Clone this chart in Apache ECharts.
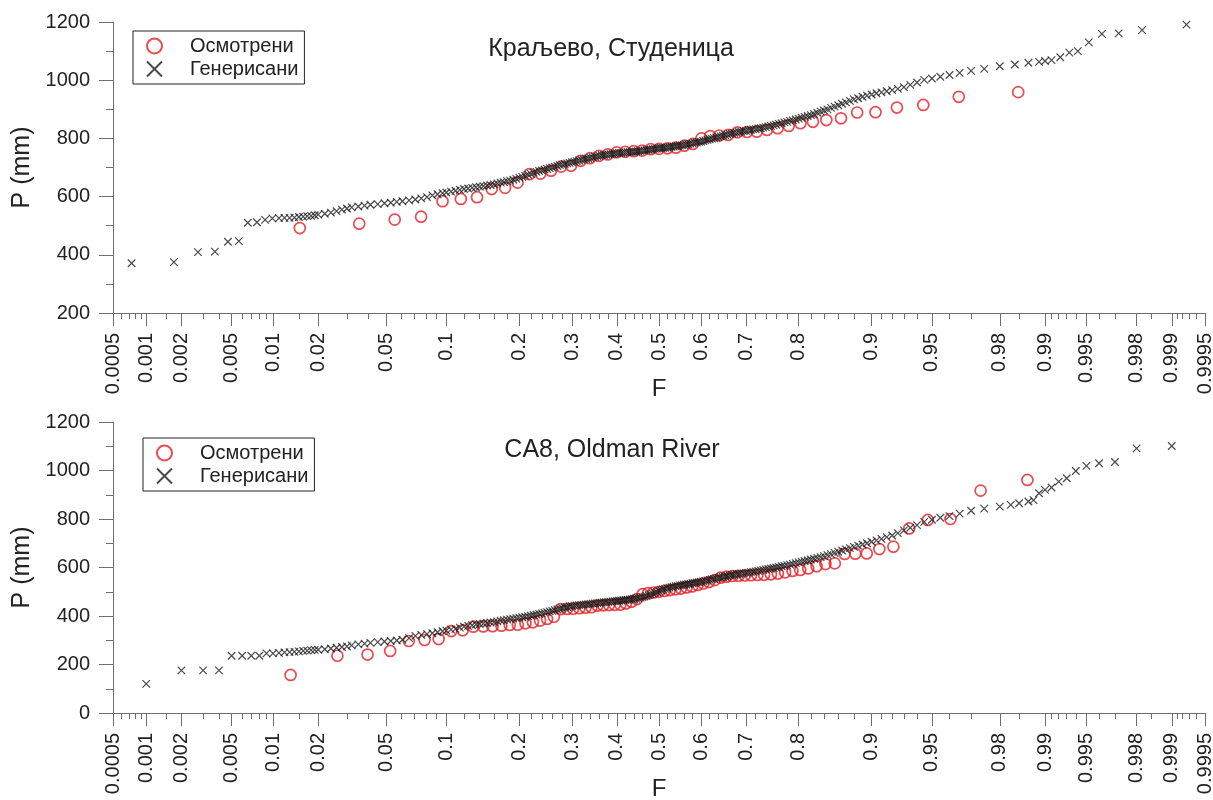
<!DOCTYPE html>
<html>
<head>
<meta charset="utf-8">
<script src="https://cdn.jsdelivr.net/npm/echarts@6/dist/echarts.min.js"></script>
<style>
    html, body {margin: 0; padding: 0; background: #fff;}
    #chart {width: 1213px; height: 800px;}
</style>
</head>
<body>
<div id="chart"></div>
<script>
// probability axis ticks
const majorF = [0.0005, 0.001, 0.002, 0.005, 0.01, 0.02, 0.05, 0.1, 0.2, 0.3, 0.4, 0.5, 0.6, 0.7, 0.8, 0.9, 0.95, 0.98, 0.99, 0.995, 0.998, 0.999, 0.9995]
const majorLabels = ['0.0005', '0.001', '0.002', '0.005', '0.01', '0.02', '0.05', '0.1', '0.2', '0.3', '0.4', '0.5', '0.6', '0.7', '0.8', '0.9', '0.95', '0.98', '0.99', '0.995', '0.998', '0.999', '0.9995']
const minorF = [
    0.0006, 0.0007, 0.0008, 0.0009, 0.0015, 0.003, 0.004, 0.006, 0.007, 0.008, 0.009, 0.015, 0.03, 0.04,
    0.06, 0.07, 0.08, 0.09, 0.12, 0.14, 0.16, 0.18, 0.22, 0.24, 0.26, 0.28, 0.32, 0.34, 0.36, 0.38,
    0.42, 0.44, 0.46, 0.48, 0.52, 0.54, 0.56, 0.58, 0.62, 0.64, 0.66, 0.68, 0.72, 0.74, 0.76, 0.78,
    0.82, 0.84, 0.86, 0.88, 0.91, 0.92, 0.93, 0.94, 0.96, 0.97, 0.985, 0.991, 0.992, 0.993, 0.994,
    0.996, 0.997, 0.9985, 0.9991, 0.9992, 0.9993, 0.9994,
]

// Краљево, Студеница
const obsTopF = [
    0.0152, 0.0354, 0.0556, 0.0758, 0.0960, 0.1162, 0.1364, 0.1566, 0.1768, 0.1970,
    0.2172, 0.2374, 0.2576, 0.2778, 0.2980, 0.3182, 0.3384, 0.3586, 0.3788, 0.3990,
    0.4192, 0.4394, 0.4596, 0.4798, 0.5000, 0.5202, 0.5404, 0.5606, 0.5808, 0.6010,
    0.6212, 0.6414, 0.6616, 0.6818, 0.7020, 0.7222, 0.7424, 0.7626, 0.7828, 0.8030,
    0.8232, 0.8434, 0.8636, 0.8838, 0.9040, 0.9242, 0.9444, 0.9646, 0.9848,
]
const obsTopP = [
    492, 507, 521, 531, 584, 592, 598, 626, 630, 648,
    677, 679, 689, 703, 706, 723, 732, 740, 745, 752,
    754, 756, 758, 763, 764, 766, 768, 775, 781, 800,
    808, 810, 812, 821, 822, 823, 829, 835, 843, 852,
    857, 863, 869, 889, 890, 906, 915, 943, 959,
]
const genTopF = [
    0.00074, 0.00173, 0.00273, 0.00372, 0.00469, 0.00567, 0.0066, 0.0077, 0.0088, 0.0099,
    0.011, 0.012, 0.013, 0.014, 0.015, 0.016, 0.017, 0.018, 0.019, 0.020,
    0.022, 0.024, 0.026, 0.028, 0.030, 0.032, 0.035, 0.038, 0.041, 0.045,
    0.049, 0.053, 0.057, 0.061, 0.066, 0.071, 0.076, 0.081, 0.086, 0.091,
    0.096,
    0.100, 0.105, 0.110, 0.115, 0.120, 0.125, 0.130, 0.135, 0.140, 0.145,
    0.150, 0.155, 0.160, 0.165, 0.170, 0.175, 0.180, 0.185, 0.190, 0.195,
    0.200, 0.205, 0.210, 0.215, 0.220, 0.225, 0.230, 0.235, 0.240, 0.245,
    0.250, 0.255, 0.260, 0.265, 0.270, 0.275, 0.280, 0.285, 0.290, 0.295,
    0.300, 0.305, 0.310, 0.315, 0.320, 0.325, 0.330, 0.335, 0.340, 0.345,
    0.350, 0.355, 0.360, 0.365, 0.370, 0.375, 0.380, 0.385, 0.390, 0.395,
    0.400, 0.405, 0.410, 0.415, 0.420, 0.425, 0.430, 0.435, 0.440, 0.445,
    0.450, 0.455, 0.460, 0.465, 0.470, 0.475, 0.480, 0.485, 0.490, 0.495,
    0.500, 0.505, 0.510, 0.515, 0.520, 0.525, 0.530, 0.535, 0.540, 0.545,
    0.550, 0.555, 0.560, 0.565, 0.570, 0.575, 0.580, 0.585, 0.590, 0.595,
    0.600, 0.605, 0.610, 0.615, 0.620, 0.625, 0.630, 0.635, 0.640, 0.645,
    0.650, 0.655, 0.660, 0.665, 0.670, 0.675, 0.680, 0.685, 0.690, 0.695,
    0.700, 0.705, 0.710, 0.715, 0.720, 0.725, 0.730, 0.735, 0.740, 0.745,
    0.750, 0.755, 0.760, 0.765, 0.770, 0.775, 0.780, 0.785, 0.790, 0.795,
    0.800, 0.805, 0.810, 0.815, 0.820, 0.825, 0.830, 0.835, 0.840, 0.845,
    0.850, 0.855, 0.860, 0.865, 0.870, 0.875, 0.880, 0.885, 0.890, 0.895,
    0.900,
    0.905, 0.910, 0.915, 0.920, 0.925, 0.930, 0.935, 0.940, 0.945, 0.950,
    0.955, 0.960, 0.965, 0.970, 0.975, 0.980, 0.984, 0.987, 0.989, 0.990,
    0.991, 0.9922, 0.9933, 0.9942, 0.9952, 0.9962, 0.9972, 0.9982, 0.99926,
]
const genTopP = [
    371, 375, 409, 411, 445, 447, 510, 512, 520, 525,
    526, 527, 527, 528, 530, 531, 533, 534, 536, 538,
    541, 545, 550, 555, 559, 563, 566, 569, 572, 574,
    577, 579, 582, 584, 587, 590, 594, 598, 604, 608,
    612,
    614, 617, 620, 623, 626, 628, 630, 632, 634, 636,
    638, 640, 642, 645, 648, 650, 653, 655, 658, 661,
    665, 668, 671, 675, 678, 682, 685, 688, 690, 693,
    695, 698, 700, 703, 705, 708, 710, 712, 714, 716,
    718, 720, 722, 724, 726, 728, 730, 731, 733, 735,
    737, 739, 740, 742, 743, 744, 745, 746, 747, 748,
    749, 750, 750, 751, 752, 753, 753, 754, 754, 755,
    756, 757, 758, 759, 760, 761, 762, 763, 764, 765,
    766, 767, 767, 768, 769, 770, 771, 772, 773, 774,
    775, 776, 777, 779, 780, 782, 783, 785, 786, 788,
    789, 791, 793, 795, 797, 799, 801, 803, 805, 807,
    809, 811, 813, 815, 817, 819, 820, 822, 823, 825,
    826, 828, 829, 831, 832, 834, 835, 837, 839, 841,
    843, 845, 847, 850, 852, 855, 857, 860, 862, 865,
    868, 871, 874, 877, 880, 884, 888, 892, 896, 900,
    905, 909, 914, 919, 924, 929, 934, 938, 943, 947,
    951,
    955, 958, 962, 966, 970, 976, 984, 992, 1001, 1006,
    1012, 1018, 1025, 1032, 1039, 1048, 1054, 1060, 1063, 1066,
    1069, 1079, 1095, 1100, 1130, 1159, 1161, 1172, 1191,
]

// CA8, Oldman River
const obsBotF = [
    0.0132, 0.0263, 0.0395, 0.0526, 0.0658, 0.0789, 0.0921, 0.1053, 0.1184, 0.1316,
    0.1447, 0.1579, 0.1711, 0.1842, 0.1974, 0.2105, 0.2237, 0.2368, 0.2500, 0.2632,
    0.2763, 0.2895, 0.3026, 0.3158, 0.3289, 0.3421, 0.3553, 0.3684, 0.3816, 0.3947,
    0.4079, 0.4211, 0.4342, 0.4474, 0.4605, 0.4737, 0.4868, 0.5000, 0.5132, 0.5263,
    0.5395, 0.5526, 0.5658, 0.5789, 0.5921, 0.6053, 0.6184, 0.6316, 0.6447, 0.6579,
    0.6711, 0.6842, 0.6974, 0.7105, 0.7237, 0.7368, 0.7500, 0.7632, 0.7763, 0.7895,
    0.8026, 0.8158, 0.8289, 0.8421, 0.8553, 0.8684, 0.8816, 0.8947, 0.9079, 0.9211,
    0.9342, 0.9474, 0.9605, 0.9737, 0.9868,
]
const obsBotP = [
    157, 236, 241, 256, 297, 301, 305, 338, 341, 356,
    357, 358, 360, 363, 364, 370, 374, 381, 388, 397,
    428, 429, 430, 432, 434, 436, 443, 444, 445, 446,
    447, 452, 459, 470, 490, 494, 497, 500, 503, 507,
    510, 513, 518, 522, 528, 534, 540, 548, 558, 562,
    565, 566, 567, 568, 569, 570, 572, 575, 580, 586,
    590, 596, 605, 614, 617, 656, 657, 658, 676, 686,
    761, 796, 800, 917, 961,
]
const genBotF = [
    0.001, 0.002, 0.003, 0.004, 0.005, 0.006, 0.007, 0.008, 0.009, 0.010,
    0.011, 0.012, 0.013, 0.014, 0.015, 0.016, 0.017, 0.018, 0.019, 0.020,
    0.022, 0.024, 0.026, 0.028, 0.030, 0.032, 0.035, 0.038, 0.041, 0.045,
    0.049, 0.053, 0.057, 0.061, 0.066, 0.071, 0.076, 0.081, 0.086, 0.091,
    0.096,
    0.100, 0.105, 0.110, 0.115, 0.120, 0.125, 0.130, 0.135, 0.140, 0.145,
    0.150, 0.155, 0.160, 0.165, 0.170, 0.175, 0.180, 0.185, 0.190, 0.195,
    0.200, 0.205, 0.210, 0.215, 0.220, 0.225, 0.230, 0.235, 0.240, 0.245,
    0.250, 0.255, 0.260, 0.265, 0.270, 0.275, 0.280, 0.285, 0.290, 0.295,
    0.300, 0.305, 0.310, 0.315, 0.320, 0.325, 0.330, 0.335, 0.340, 0.345,
    0.350, 0.355, 0.360, 0.365, 0.370, 0.375, 0.380, 0.385, 0.390, 0.395,
    0.400, 0.405, 0.410, 0.415, 0.420, 0.425, 0.430, 0.435, 0.440, 0.445,
    0.450, 0.455, 0.460, 0.465, 0.470, 0.475, 0.480, 0.485, 0.490, 0.495,
    0.500, 0.505, 0.510, 0.515, 0.520, 0.525, 0.530, 0.535, 0.540, 0.545,
    0.550, 0.555, 0.560, 0.565, 0.570, 0.575, 0.580, 0.585, 0.590, 0.595,
    0.600, 0.605, 0.610, 0.615, 0.620, 0.625, 0.630, 0.635, 0.640, 0.645,
    0.650, 0.655, 0.660, 0.665, 0.670, 0.675, 0.680, 0.685, 0.690, 0.695,
    0.700, 0.705, 0.710, 0.715, 0.720, 0.725, 0.730, 0.735, 0.740, 0.745,
    0.750, 0.755, 0.760, 0.765, 0.770, 0.775, 0.780, 0.785, 0.790, 0.795,
    0.800, 0.805, 0.810, 0.815, 0.820, 0.825, 0.830, 0.835, 0.840, 0.845,
    0.850, 0.855, 0.860, 0.865, 0.870, 0.875, 0.880, 0.885, 0.890, 0.895,
    0.900,
    0.905, 0.910, 0.915, 0.920, 0.925, 0.930, 0.935, 0.940, 0.945, 0.950,
    0.955, 0.960, 0.965, 0.970, 0.975, 0.980, 0.983, 0.985, 0.987, 0.988,
    0.989, 0.990, 0.991, 0.992, 0.993, 0.994, 0.995, 0.996, 0.997, 0.998, 0.999,
]
const genBotP = [
    120, 176, 176, 176, 236, 236, 236, 236, 246, 246,
    248, 250, 251, 252, 254, 256, 257, 259, 260, 261,
    263, 266, 269, 272, 275, 279, 283, 286, 289, 292,
    295, 297, 299, 302, 309, 318, 322, 325, 329, 333,
    337,
    340, 344, 347, 352, 356, 359, 362, 365, 367, 369,
    371, 373, 375, 378, 381, 383, 385, 387, 389, 391,
    393, 395, 397, 399, 401, 404, 406, 409, 411, 414,
    416, 419, 421, 424, 427, 430, 432, 435, 437, 439,
    441, 443, 444, 445, 446, 447, 448, 449, 450, 451,
    452, 453, 454, 455, 456, 457, 458, 459, 460, 461,
    462, 463, 464, 465, 466, 467, 468, 469, 471, 472,
    474, 476, 478, 480, 483, 486, 489, 492, 496, 499,
    503, 506, 510, 512, 515, 517, 519, 521, 523, 524,
    526, 527, 529, 530, 532, 533, 535, 536, 538, 539,
    541, 543, 545, 547, 549, 551, 553, 555, 557, 559,
    561, 563, 565, 567, 569, 570, 572, 573, 575, 576,
    578, 579, 581, 582, 584, 586, 588, 590, 592, 594,
    596, 598, 600, 602, 605, 607, 610, 612, 615, 618,
    621, 624, 627, 630, 633, 636, 640, 643, 647, 651,
    655, 660, 665, 670, 675, 680, 685, 690, 695, 700,
    706,
    712, 718, 725, 732, 742, 753, 764, 775, 788, 797,
    805, 812, 822, 834, 843, 851, 858, 865, 872, 878,
    906, 920, 930, 954, 968, 998, 1019, 1030, 1035, 1091, 1101,
]

// inverse of the standard normal cdf (Acklam) -> probability paper scale
function probit(p) {
    const a = [-39.69683028665376, 220.9460984245205, -275.9285104469687, 138.357751867269, -30.66479806614716, 2.506628274631]
    const b = [-54.47609879822406, 161.5858368580409, -155.6989798598866, 66.80131188771972, -13.28068155288572]
    const c = [-0.007784894002430293, -0.3223964580411365, -2.400758277161838, -2.549732539343734, 4.374664141464968, 2.938163982698783]
    const d = [0.007784695709041462, 0.3224671290700398, 2.445134137142996, 3.754408661907416]
    const pl = 0.02425
    let q, r
    if (p < pl) {
        q = Math.sqrt(-2 * Math.log(p))
        return (((((c[0] * q + c[1]) * q + c[2]) * q + c[3]) * q + c[4]) * q + c[5]) / ((((d[0] * q + d[1]) * q + d[2]) * q + d[3]) * q + 1)
    }
    if (p > 1 - pl) {
        q = Math.sqrt(-2 * Math.log(1 - p))
        return -(((((c[0] * q + c[1]) * q + c[2]) * q + c[3]) * q + c[4]) * q + c[5]) / ((((d[0] * q + d[1]) * q + d[2]) * q + d[3]) * q + 1)
    }
    q = p - 0.5
    r = q * q
    return (((((a[0] * r + a[1]) * r + a[2]) * r + a[3]) * r + a[4]) * r + a[5]) * q / (((((b[0] * r + b[1]) * r + b[2]) * r + b[3]) * r + b[4]) * r + 1)
}

const majorZ = majorF.map(probit)
const minorZ = minorF.map(probit)
const zMin = probit(0.0005)
const zMax = probit(0.9995)

const font = 'Liberation Sans, Arial, sans-serif'
const txt = '#222'
const axisCol = '#6e6e6e'
const red = '#e41f26'
const cross = 'path://M0 0L10 10M10 0L0 10'

const pairs = (fs, ps) => fs.map((f, i) => [probit(f), ps[i]])

const majorAxis = (gridIndex) => ({
    type: 'value',
    gridIndex,
    position: 'bottom',
    min: zMin,
    max: zMax,
    name: 'F',
    nameLocation: 'middle',
    nameGap: 64,
    nameMoveOverlap: false,
    nameTextStyle: {fontFamily: font, fontSize: 24, color: txt},
    axisLine: {onZero: false, lineStyle: {color: axisCol, width: 1}},
    axisTick: {customValues: majorZ, length: 13, lineStyle: {color: axisCol}},
    axisLabel: {
        customValues: majorZ,
        rotate: 90,
        margin: 20,
        fontFamily: font,
        fontSize: 20,
        color: txt,
        formatter(v) {
            let best = 0
            majorZ.forEach((z, i) => {
                if (Math.abs(z - v) < Math.abs(majorZ[best] - v)) best = i
            })
            return majorLabels[best]
        },
    },
    splitLine: {show: false},
})

const minorAxis = (gridIndex) => ({
    type: 'value',
    gridIndex,
    position: 'bottom',
    min: zMin,
    max: zMax,
    axisLine: {show: false, onZero: false},
    axisTick: {customValues: minorZ, length: 6, lineStyle: {color: axisCol}},
    axisLabel: {show: false},
    splitLine: {show: false},
})

const yAxis = (gridIndex, min) => ({
    type: 'value',
    gridIndex,
    min,
    max: 1200,
    interval: 200,
    name: 'P (mm)',
    nameLocation: 'middle',
    nameGap: 78,
    nameMoveOverlap: false,
    nameTextStyle: {fontFamily: font, fontSize: 25, color: txt},
    axisLine: {show: true, onZero: false, lineStyle: {color: axisCol, width: 1}},
    axisTick: {show: true, length: 14, lineStyle: {color: axisCol}},
    minorTick: {show: true, splitNumber: 2, length: 7, lineStyle: {color: axisCol}},
    axisLabel: {margin: 23, fontFamily: font, fontSize: 20, color: txt, formatter: (v) => String(v)},
    splitLine: {show: false},
})

const legend = (left, top) => ({
    orient: 'vertical',
    left,
    top,
    padding: [5, 6, 5, 13],
    itemGap: 3,
    itemWidth: 15,
    itemHeight: 15,
    borderColor: '#222',
    borderWidth: 1,
    data: ['Осмотрени', 'Генерисани'],
    textStyle: {fontFamily: font, fontSize: 20, color: txt, padding: [0, 0, 0, 23]},
})

const obsSeries = (xAxisIndex, yAxisIndex, data) => ({
    name: 'Осмотрени',
    type: 'scatter',
    xAxisIndex,
    yAxisIndex,
    data,
    symbol: 'circle',
    symbolSize: 11,
    itemStyle: {color: 'rgba(0,0,0,0)', borderColor: red, borderWidth: 1.7},
    z: 3,
})

const genSeries = (xAxisIndex, yAxisIndex, data) => ({
    name: 'Генерисани',
    type: 'scatter',
    xAxisIndex,
    yAxisIndex,
    data,
    symbol: cross,
    symbolSize: 7.5,
    itemStyle: {color: 'rgba(0,0,0,0)', borderColor: '#1c1c1c', borderWidth: 1.2},
    z: 4,
})

const chart = echarts.init(document.getElementById('chart'), null, {renderer: 'canvas'})
chart.setOption({
    animation: false,
    backgroundColor: '#fff',
    title: [
        {text: 'Краљево, Студеница', left: 611, top: 37, textAlign: 'center', padding: 0,
            textStyle: {fontFamily: font, fontSize: 25, fontWeight: 'normal', color: txt}},
        {text: 'CA8, Oldman River', left: 612, top: 438, textAlign: 'center', padding: 0,
            textStyle: {fontFamily: font, fontSize: 25, fontWeight: 'normal', color: txt}},
    ],
    legend: [legend(133, 31), legend(143, 438)],
    grid: [
        {left: 113, right: 8, top: 22, height: 291, outerBoundsMode: 'none'},
        {left: 113, right: 8, top: 422, height: 291, outerBoundsMode: 'none'},
    ],
    xAxis: [majorAxis(0), minorAxis(0), majorAxis(1), minorAxis(1)],
    yAxis: [yAxis(0, 200), yAxis(1, 0)],
    series: [
        obsSeries(0, 0, pairs(obsTopF, obsTopP)),
        genSeries(0, 0, pairs(genTopF, genTopP)),
        obsSeries(2, 1, pairs(obsBotF, obsBotP)),
        genSeries(2, 1, pairs(genBotF, genBotP)),
    ],
})
</script>
</body>
</html>
